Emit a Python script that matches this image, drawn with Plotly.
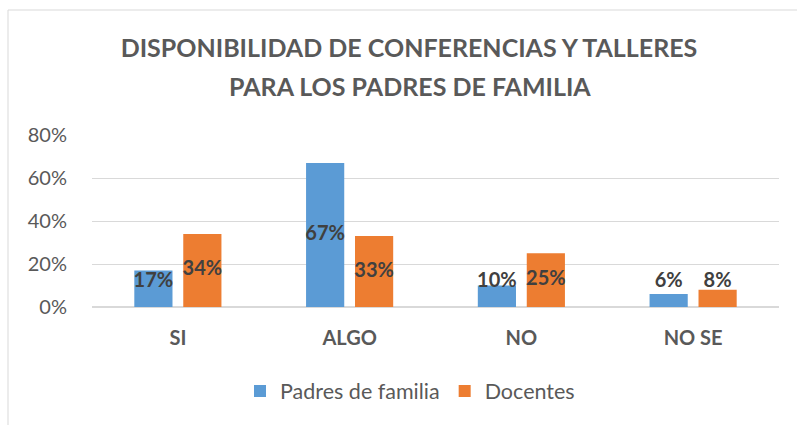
import numpy as np
import plotly.graph_objects as go

categories = ["SI", "ALGO", "NO", "NO SE"]
padres = [0.17, 0.67, 0.10, 0.06]
docentes = [0.34, 0.33, 0.25, 0.08]
series_names = ["Padres de familia", "Docentes"]
ytick_vals = [0, 0.2, 0.4, 0.6, 0.8]
ytick_text = ["0%", "20%", "40%", "60%", "80%"]
title_lines = ["DISPONIBILIDAD DE CONFERENCIAS Y TALLERES", "PARA LOS PADRES DE FAMILIA"]

BLUE = "#5B9BD5"
ORANGE = "#ED7D31"
GRAY = "#595959"
LABEL = "#404040"
FONT = "Lato"

bargap = 0.43
bargroupgap = 0.22
label_floor = 0.116

xs = np.arange(len(categories))
fig = go.Figure()
for name, vals, col in [(series_names[0], padres, BLUE), (series_names[1], docentes, ORANGE)]:
    fig.add_trace(go.Bar(x=xs, y=vals, name=name, marker=dict(color=col, line=dict(width=0)),
                         hoverinfo="skip"))

off = (1 - bargap) / 4
for vals, sign in [(padres, -1), (docentes, 1)]:
    v = np.array(vals)
    fig.add_trace(go.Scatter(
        x=xs + sign * off, y=np.maximum(v / 2, label_floor), mode="text",
        text=[f"{round(a*100)}%" for a in v], textposition="middle center",
        textfont=dict(family=FONT, size=20, color=LABEL, weight="bold"),
        showlegend=False, hoverinfo="skip"))

title_font = dict(family=FONT, size=25, color=GRAY, weight="bold")
fig.update_layout(
    width=797, height=425,
    margin=dict(l=92, r=18, t=135, b=118),
    paper_bgcolor="white", plot_bgcolor="white",
    barmode="group", bargap=bargap, bargroupgap=bargroupgap,
    hovermode=False,
    title=dict(text=title_lines[0], x=409 / 797, xanchor="center", y=1 - 48 / 425, yanchor="middle",
               font=title_font),
    annotations=[dict(text=title_lines[1], xref="paper", yref="paper", x=(410 - 92) / 687,
                      xanchor="center", y=(307 - 86) / 172, yanchor="middle", showarrow=False,
                      font=title_font)],
    xaxis=dict(range=[-0.5, 3.5], tickvals=xs, ticktext=categories, showgrid=False,
               showline=False, zeroline=False, ticks="", ticklen=0, ticklabelstandoff=17,
               tickfont=dict(family=FONT, size=20, color=GRAY, weight="bold")),
    yaxis=dict(range=[0, 0.8], tickvals=ytick_vals, ticktext=ytick_text,
               showgrid=True, gridcolor="#D9D9D9", gridwidth=1,
               zeroline=True, zerolinecolor="#D9D9D9", zerolinewidth=1.5,
               showline=False, ticks="", ticklabelstandoff=24,
               tickfont=dict(family=FONT, size=20, color=GRAY)),
    legend=dict(orientation="h", x=(410 - 92) / 687, xanchor="center", y=(307 - 391) / 172,
                yanchor="middle", font=dict(family=FONT, size=21.5, color=GRAY), itemwidth=30,
                traceorder="normal", tracegroupgap=0),
    showlegend=True,
    shapes=[dict(type="rect", xref="paper", yref="paper",
                 x0=(8 - 92) / 687, x1=(805 - 92) / 687,
                 y0=(307 - 440) / 172, y1=(307 - 10) / 172,
                 line=dict(color="#D9D9D9", width=1), fillcolor="rgba(0,0,0,0)", layer="below")],
)

fig.write_html("out.html", config={"displayModeBar": False},
               post_script="document.body.style.margin='0';")
